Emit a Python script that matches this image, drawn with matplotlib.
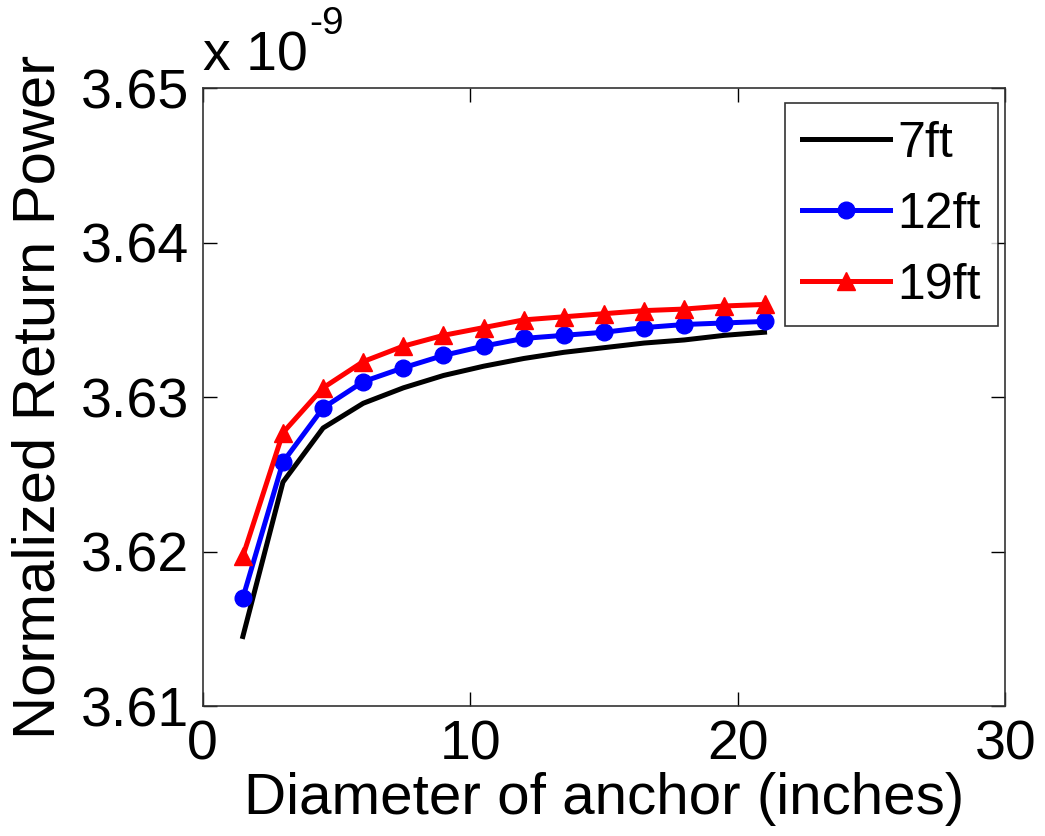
"""Normalized return power vs anchor diameter, three heights."""
import numpy as np
import matplotlib
matplotlib.use('Agg')
import matplotlib.pyplot as plt
from matplotlib.ticker import FormatStrFormatter

plt.rcParams['font.family'] = ['Liberation Sans', 'DejaVu Sans']

# Data (power in units of 1e-9)
diameter = [1.5, 3, 4.5, 6, 7.5, 9, 10.5, 12, 13.5, 15, 16.5, 18, 19.5, 21]
p_7ft = [3.6145, 3.6245, 3.6280, 3.6296, 3.6306, 3.6314, 3.6320,
         3.6325, 3.6329, 3.6332, 3.6335, 3.6337, 3.6340, 3.6342]
p_12ft = [3.6170, 3.6258, 3.6293, 3.6310, 3.6319, 3.6327, 3.6333,
          3.6338, 3.6340, 3.6342, 3.6345, 3.6347, 3.6348, 3.6349]
p_19ft = [3.6197, 3.6277, 3.6306, 3.6323, 3.6333, 3.6340, 3.6345,
          3.6350, 3.6352, 3.6354, 3.6356, 3.6357, 3.6359, 3.6360]

fig = plt.figure(figsize=(10.45, 8.36), dpi=100)
ax = fig.add_axes([0.194, 0.1555, 0.768, 0.739])

ax.plot(diameter, p_7ft, color='black', lw=3.6, label='7ft')
ax.plot(diameter, p_12ft, color='blue', lw=3.6, marker='o', ms=12, label='12ft')
ax.plot(diameter, p_19ft, color='red', lw=3.6, marker='^', ms=13, label='19ft')

ax.set_xlim(0, 30)
ax.set_ylim(3.61, 3.65)
ax.set_xticks([0, 10, 20, 30])
ax.set_yticks([3.61, 3.62, 3.63, 3.64, 3.65])
ax.yaxis.set_major_formatter(FormatStrFormatter('%.2f'))
ax.tick_params(direction='in', length=10, width=1, top=True, right=True,
               labelsize=40, pad=10)
for sp in ax.spines.values():
    sp.set_linewidth(1.2)
    sp.set_color('#333333')

ax.set_xlabel('Diameter of anchor (inches)', fontsize=42, labelpad=0)
ax.set_ylabel('Normalized Return Power', fontsize=43, labelpad=10)

# MATLAB-style exponent label
ax.text(0.0, 1.01, 'x 10', transform=ax.transAxes, fontsize=40,
        ha='left', va='bottom')
ax.text(0.133, 1.075, '-9', transform=ax.transAxes, fontsize=28,
        ha='left', va='bottom')

leg = ax.legend(loc='upper right', bbox_to_anchor=(0.991, 0.976),
                fontsize=36, frameon=True, fancybox=False,
                edgecolor='black', handlelength=1.75, handletextpad=0.15,
                labelspacing=0.5, borderpad=0.35, borderaxespad=0.0)
leg.get_frame().set_linewidth(1.2)

fig.savefig('out.png', dpi=100)
